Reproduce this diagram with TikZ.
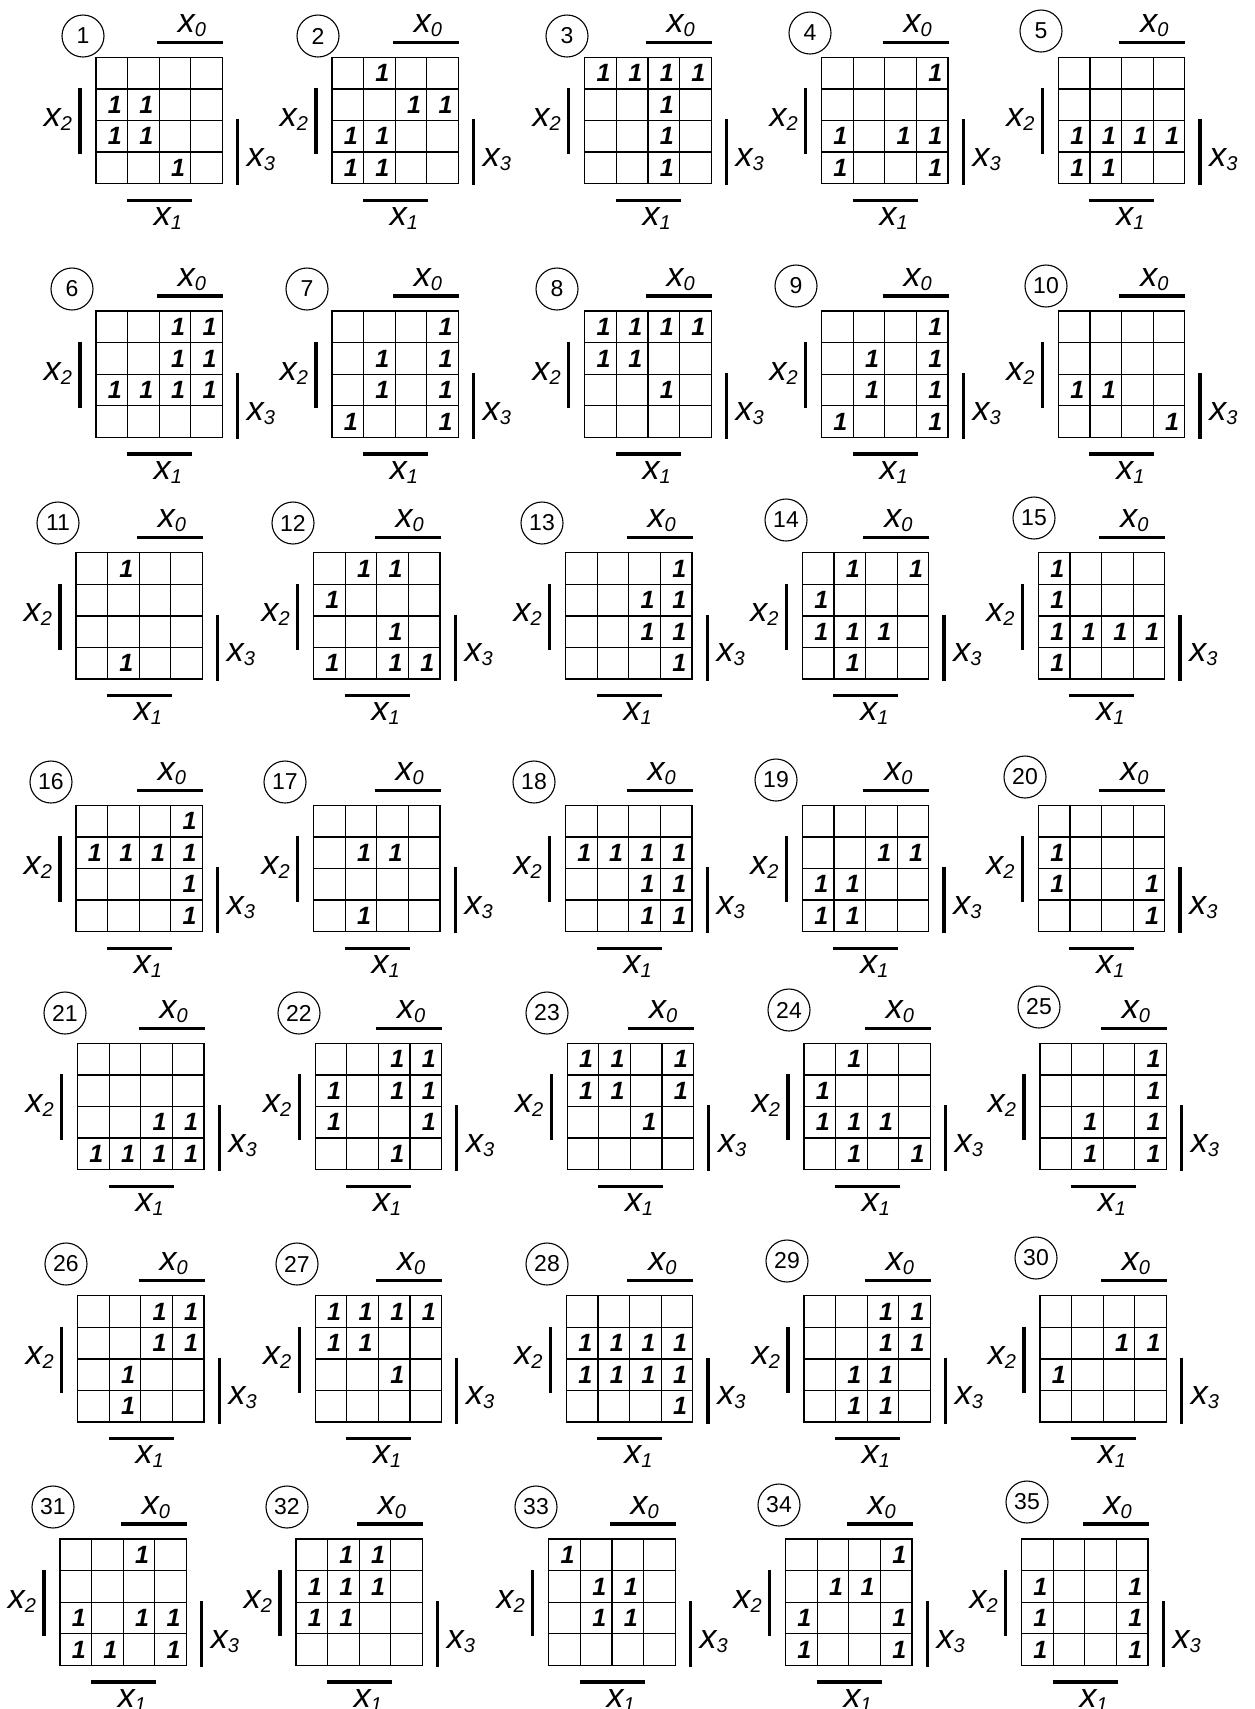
\documentclass[tikz,border=0pt]{standalone}
\usepackage{fontspec}
\setmainfont{Liberation Sans}
\tikzset{
  gridline/.style={line width=1.3pt},
  barline/.style={line width=3.2pt},
  onecell/.style={inner sep=0pt, font=\fontsize{25}{25}\selectfont\bfseries\itshape},
  numcirc/.style={draw, circle, line width=1.1pt, minimum size=42pt, inner sep=0pt, font=\fontsize{23}{23}\selectfont},
  varlab/.style={inner sep=0pt, font=\fontsize{34}{34}\selectfont\itshape},
}
\newcommand\ksub[1]{\raisebox{-4pt}{\fontsize{20}{20}\selectfont #1}}
\newcommand\kmap[6]{%
  \begin{scope}[shift={(#2,#3)}]
    \draw[gridline] (0,0) rectangle (126.4,126.4);
    \foreach \k in {1,2,3}{
      \draw[gridline] ({\k*31.6},0) -- ({\k*31.6},126.4);
      \draw[gridline] (0,{\k*31.6}) -- (126.4,{\k*31.6});
    }
    \draw[barline] (61,-15) -- (127,-15);
    \draw[barline] (31,143) -- (96,143);
    \draw[barline] (-16,31) -- (-16,97);
    \draw[barline] (141.5,62) -- (141.5,128);
    \node[varlab, anchor=base] (m#1x0) at (96,-25) {x\ksub{0}};
    \node[varlab, anchor=base] (m#1x1) at (72,168) {x\ksub{1}};
    \node[varlab, anchor=base] (m#1x2) at (-38,69) {x\ksub{2}};
    \node[varlab, anchor=base] (m#1x3) at (165,109) {x\ksub{3}};
    \foreach \c/\r in {#6}{
      \node[onecell] (m#1c\c r\r) at ({(\c-0.5)*31.6+3},{(\r-0.5)*31.6}) {1};
    }
  \end{scope}
  \node[numcirc] (n#1) at (#4,#5) {#1};
}
\begin{document}
\begin{tikzpicture}[x=1pt,y=-1pt]
\useasboundingbox (0,0) rectangle (1254,1709);
\fill[white] (0,0) rectangle (1254,1709);
% row 1
\kmap{1}{96}{57.3}{83}{36}{1/2,2/2,1/3,2/3,3/4}
\kmap{2}{332}{57.3}{318}{36}{2/1,3/2,4/2,1/3,2/3,1/4,2/4}
\kmap{3}{584.8}{57.3}{567}{36}{1/1,2/1,3/1,4/1,3/2,3/3,3/4}
\kmap{4}{821.6}{57.3}{810}{33}{4/1,1/3,3/3,4/3,1/4,4/4}
\kmap{5}{1058.4}{57.3}{1041}{31}{1/3,2/3,3/3,4/3,1/4,2/4}
% row 2
\kmap{6}{96}{311}{72}{289}{3/1,4/1,3/2,4/2,1/3,2/3,3/3,4/3}
\kmap{7}{332}{311}{307}{289}{4/1,2/2,4/2,2/3,4/3,1/4,4/4}
\kmap{8}{584.8}{311}{557}{289}{1/1,2/1,3/1,4/1,1/2,2/2,3/3}
\kmap{9}{821.6}{311}{796}{286}{4/1,2/2,4/2,2/3,4/3,1/4,4/4}
\kmap{10}{1058.4}{311}{1046}{286}{1/3,2/3,4/4}
% row 3
\kmap{11}{76}{552.7}{58}{523}{2/1,2/4}
\kmap{12}{313.6}{552.7}{293}{523}{2/1,3/1,1/2,3/3,1/4,3/4,4/4}
\kmap{13}{565.6}{552.7}{542}{523}{4/1,3/2,4/2,3/3,4/3,4/4}
\kmap{14}{802.4}{552.7}{786}{520}{2/1,4/1,1/2,1/3,2/3,3/3,2/4}
\kmap{15}{1038.4}{552.7}{1034}{518}{1/1,1/2,1/3,2/3,3/3,4/3,1/4}
% row 4
\kmap{16}{76}{805.3}{51}{782}{4/1,1/2,2/2,3/2,4/2,4/3,4/4}
\kmap{17}{313.6}{805.3}{285}{782}{2/2,3/2,2/4}
\kmap{18}{565.6}{805.3}{534}{782}{1/2,2/2,3/2,4/2,3/3,4/3,3/4,4/4}
\kmap{19}{802.4}{805.3}{776}{780}{3/2,4/2,1/3,2/3,1/4,2/4}
\kmap{20}{1038.4}{805.3}{1025}{777}{1/2,1/3,4/3,4/4}
% row 5
\kmap{21}{77.6}{1043.3}{65}{1013}{3/3,4/3,1/4,2/4,3/4,4/4}
\kmap{22}{315.2}{1043.3}{299}{1013}{3/1,4/1,1/2,3/2,4/2,1/3,4/3,3/4}
\kmap{23}{567.2}{1043.3}{547}{1013}{1/1,2/1,4/1,1/2,2/2,4/2,3/3}
\kmap{24}{804}{1043.3}{789}{1010}{2/1,1/2,1/3,2/3,3/3,2/4,4/4}
\kmap{25}{1040}{1043.3}{1039}{1007}{4/1,4/2,2/3,4/3,2/4,4/4}
% row 6
\kmap{26}{77.6}{1295.7}{66}{1264}{3/1,4/1,3/2,4/2,2/3,2/4}
\kmap{27}{315.2}{1295.7}{297}{1264}{1/1,2/1,3/1,4/1,1/2,2/2,3/3}
\kmap{28}{566.4}{1295.7}{547}{1264}{1/2,2/2,3/2,4/2,1/3,2/3,3/3,4/3,4/4}
\kmap{29}{804}{1295.7}{787}{1261}{3/1,4/1,3/2,4/2,2/3,3/3,2/4,3/4}
\kmap{30}{1040}{1295.7}{1036}{1258}{3/2,4/2,1/3}
% row 7
\kmap{31}{60}{1539}{53}{1507}{3/1,1/3,3/3,4/3,1/4,2/4,4/4}
\kmap{32}{296}{1539}{287}{1507}{2/1,3/1,1/2,2/2,3/2,1/3,2/3}
\kmap{33}{548.8}{1539}{536}{1507}{1/1,2/2,3/2,2/3,3/3}
\kmap{34}{785.6}{1539}{779}{1505}{4/1,2/2,3/2,1/3,4/3,1/4,4/4}
\kmap{35}{1021.6}{1539}{1027}{1502}{1/2,4/2,1/3,4/3,1/4,4/4}
\end{tikzpicture}
\end{document}
